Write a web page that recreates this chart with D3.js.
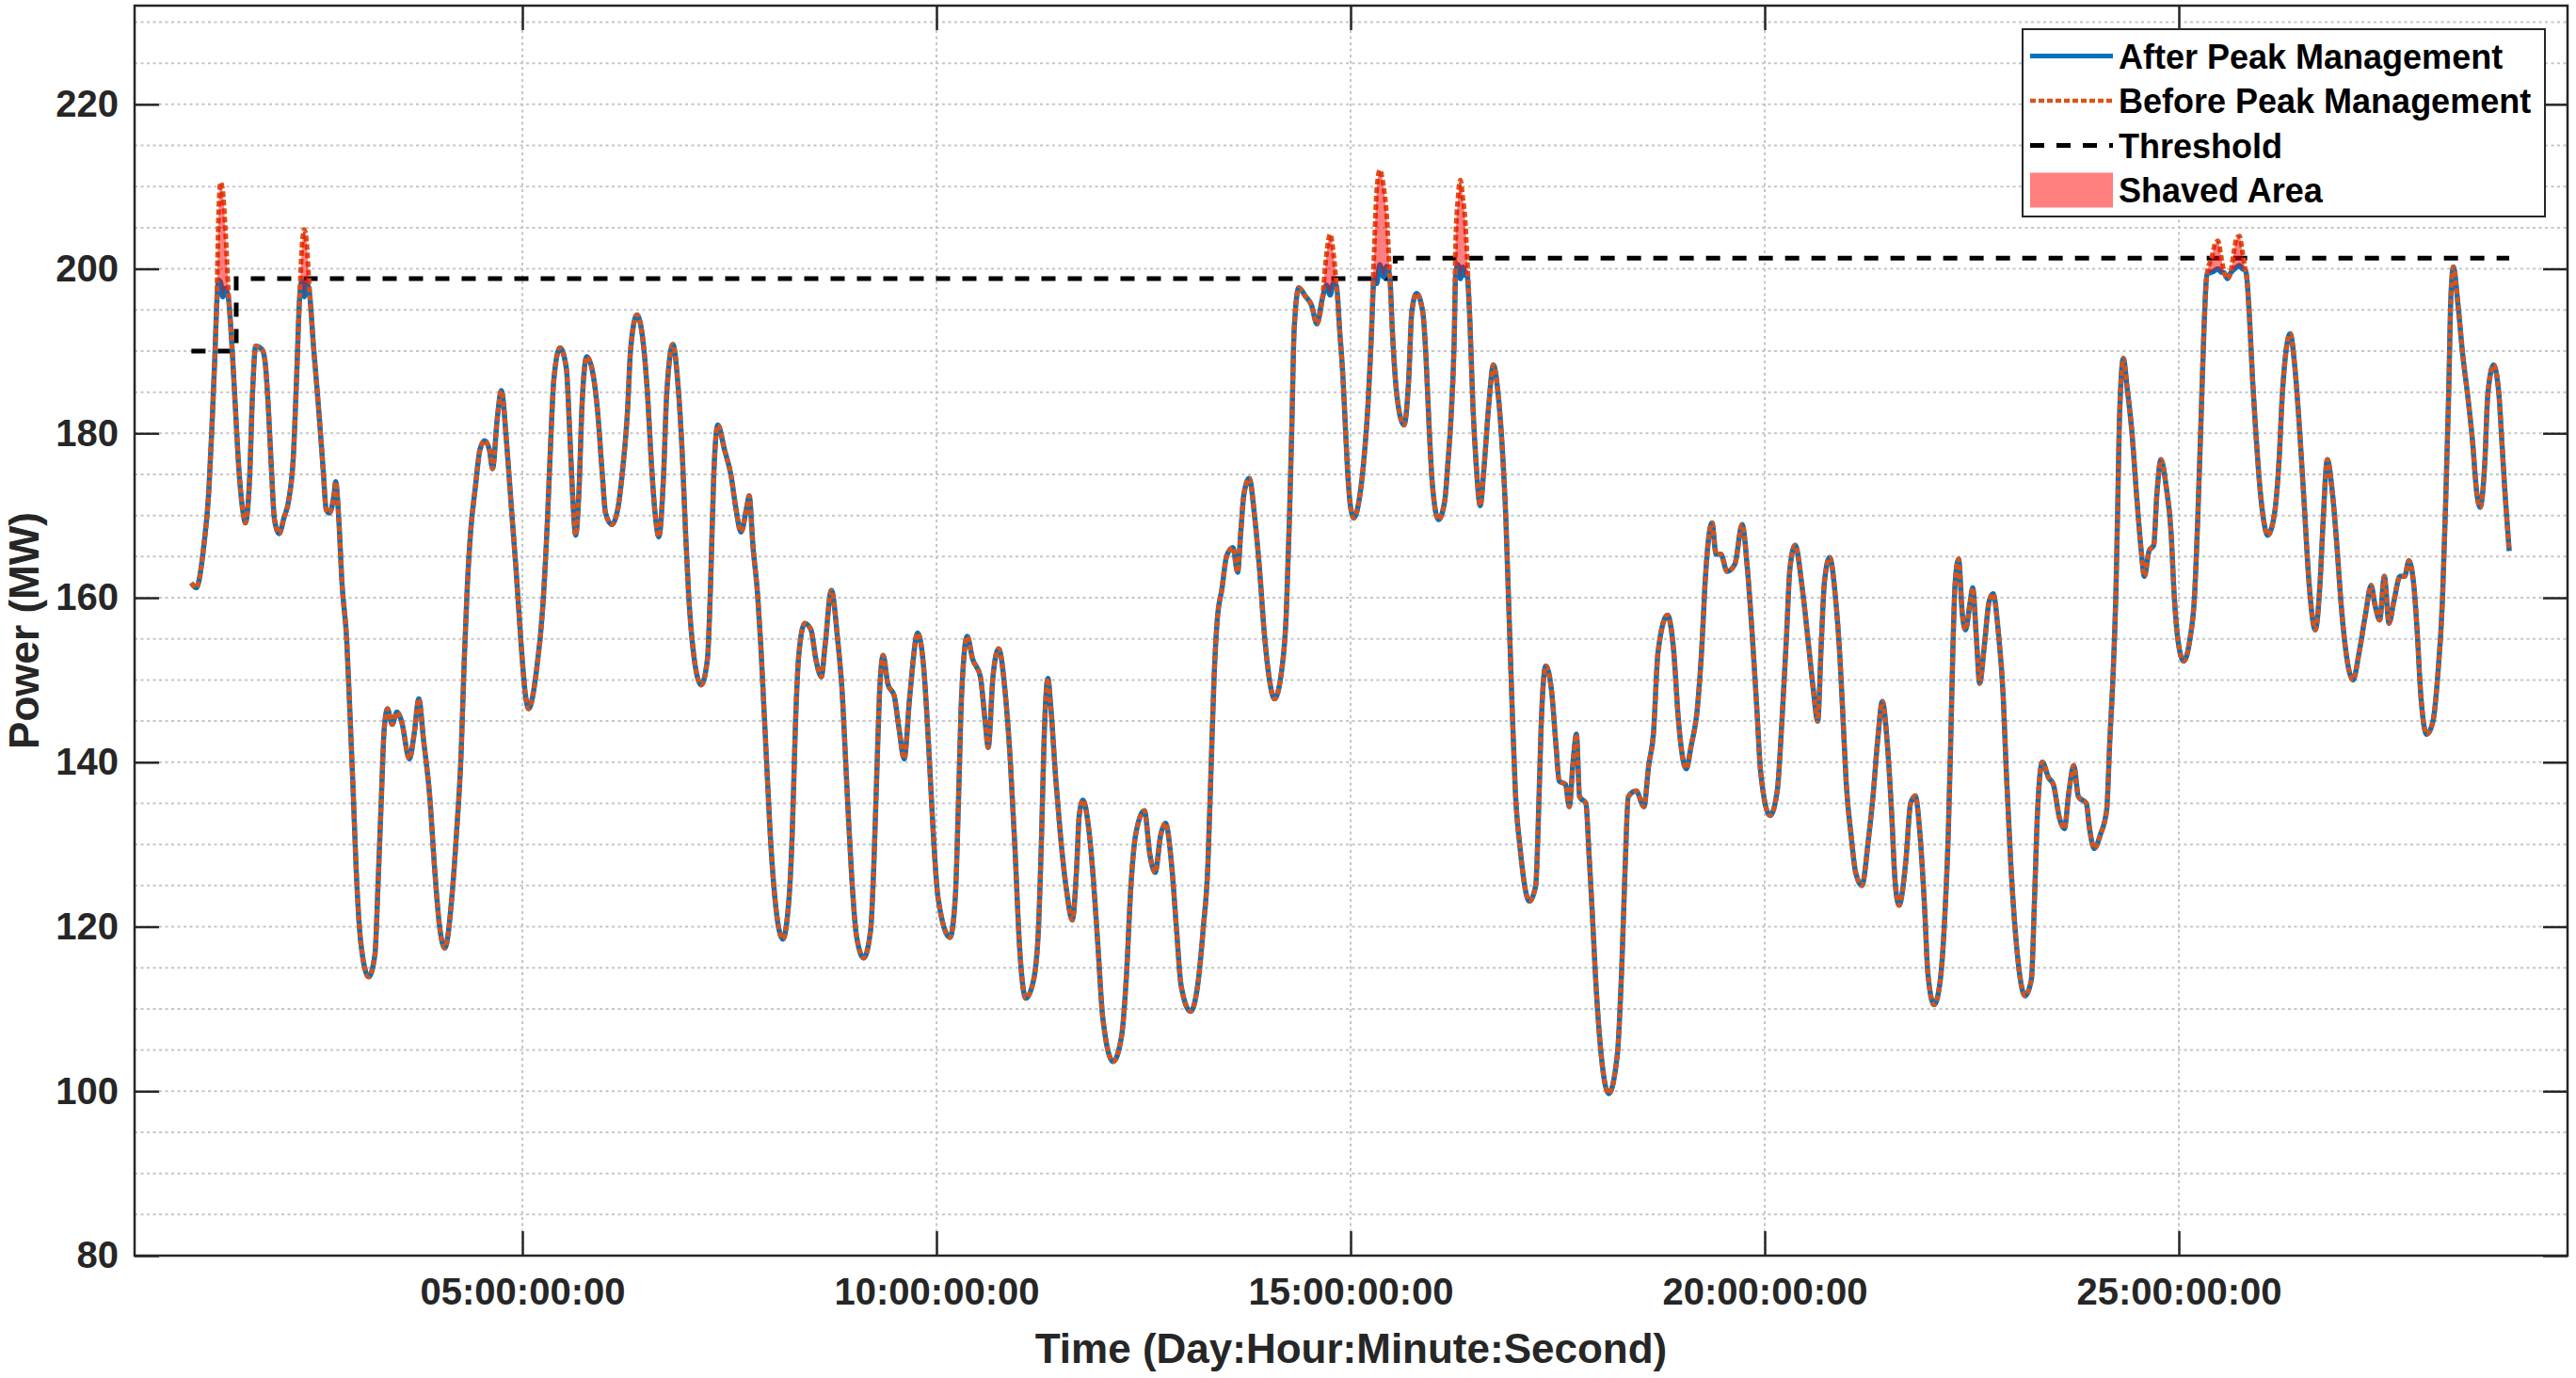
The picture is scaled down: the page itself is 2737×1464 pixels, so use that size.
<!DOCTYPE html>
<html>
<head>
<meta charset="utf-8">
<script src="https://cdn.jsdelivr.net/npm/d3@7"></script>
<style>
  html, body { margin: 0; padding: 0; background: #ffffff; }
  svg { display: block; }
</style>
</head>
<body>
<svg id="chart" width="2737" height="1464"></svg>
<script>
// ---------------- DATA ----------------
// time in days since start (axis shows Day:Hour:Minute:Second)
const timeDays = [
  1.004,1.061,1.155,1.212,1.250,1.288,1.307,1.333,1.356,1.382,1.413,1.450,1.496,1.534,1.572,1.629,1.655,1.705,1.742,1.780,1.856,1.894,1.932,1.970,2.007,2.064,2.121,2.178,2.235,2.273,2.310,2.337,2.367,2.397,2.424,2.481,2.538,2.594,2.632,2.670,2.727,2.746,2.784,2.822,2.879,2.916,2.954,2.992,3.049,3.144,3.220,3.257,3.295,3.333,3.371,3.428,3.485,3.541,3.636,3.693,3.750,3.807,3.882,3.939,3.996,4.064,4.148,4.204,4.261,4.299,4.337,4.375,4.432,4.488,4.545,4.602,4.640,4.697,4.746,4.811,4.867,4.924,4.981,5.038,5.075,5.170,5.246,5.303,5.341,5.379,5.454,
  5.531,5.568,5.606,5.644,5.682,5.720,5.777,5.853,5.909,5.966,6.004,6.080,6.156,6.212,6.269,6.307,6.383,6.459,6.515,6.553,6.602,6.648,6.705,6.743,6.818,6.875,6.932,6.970,7.008,7.065,7.159,7.235,7.273,7.311,7.360,7.443,7.519,7.576,7.640,7.709,7.739,7.784,7.841,7.879,7.917,7.955,7.993,8.049,8.144,8.220,8.258,8.296,8.334,8.409,8.485,8.542,8.610,8.655,8.731,8.807,8.864,8.902,8.940,8.978,9.034,9.121,9.205,9.243,9.280,9.311,9.356,9.413,9.489,9.546,9.610,9.678,9.773,9.849,9.906,9.962,10.019,
  10.163,10.227,10.265,10.303,10.371,10.435,10.530,10.587,10.625,10.682,10.750,10.833,10.890,10.947,11.004,11.079,11.174,11.231,11.269,11.299,11.345,11.382,11.439,11.496,11.572,11.640,11.693,11.723,11.769,11.837,11.894,11.951,12.007,12.132,12.235,12.291,12.348,12.405,12.511,12.576,12.640,12.708,12.765,12.841,12.898,12.954,13.068,13.163,13.220,13.276,13.314,13.352,13.390,13.447,13.504,13.579,13.636,13.674,13.712,13.776,13.845,13.901,13.958,14.015,14.080,14.167,14.223,14.261,14.291,14.318,14.375,14.451,14.527,14.594,
  14.659,14.709,14.754,14.792,14.830,14.868,14.906,14.936,14.962,15.000,15.038,15.114,15.171,15.209,15.247,15.284,15.315,15.352,15.398,15.436,15.474,15.504,15.542,15.587,15.644,15.701,15.739,15.796,15.871,15.909,15.947,15.985,16.061,16.137,16.175,16.212,16.250,16.269,16.296,16.326,16.356,16.383,16.402,16.439,16.477,16.515,16.565,16.610,16.667,16.724,16.781,16.837,16.875,16.913,16.951,16.989,17.046,17.159,17.235,17.273,17.300,17.356,17.425,17.481,17.519,17.595,17.640,17.689,17.727,17.765,17.841,17.879,17.917,17.955,18.012,18.117,18.220,18.277,18.315,18.353,18.447,18.542,18.599,18.656,18.712,18.826,18.902,18.959,19.053,
  19.110,19.186,19.242,19.280,19.364,19.413,19.470,19.545,19.640,19.727,19.792,19.848,19.905,19.951,20.064,20.151,20.208,20.265,20.303,20.367,20.454,20.530,20.587,20.640,20.682,20.720,20.784,20.852,20.909,20.947,20.985,21.042,21.098,21.174,21.250,21.307,21.364,21.420,21.477,21.534,21.572,21.621,21.705,21.761,21.818,21.875,21.932,21.970,22.045,22.121,22.178,22.216,22.246,22.273,22.299,22.341,22.386,22.424,22.481,22.511,22.557,22.595,22.652,22.708,22.757,22.822,22.879,22.917,22.973,23.030,23.144,23.220,23.258,23.295,23.352,23.428,23.485,23.561,23.617,23.674,23.731,23.788,
  23.883,23.921,23.978,24.053,24.129,24.167,24.205,24.243,24.262,24.281,24.330,24.375,24.432,24.489,24.546,24.584,24.641,24.697,24.735,24.784,24.849,24.906,24.944,24.989,25.057,25.133,25.190,25.228,25.266,25.303,25.341,25.400,25.436,25.474,25.511,25.549,25.587,25.625,25.663,25.701,25.731,25.769,25.796,25.815,25.853,25.891,25.928,25.966,26.023,26.072,26.156,26.213,26.250,26.345,26.402,26.459,26.516,26.572,26.648,26.705,26.743,26.792,26.856,26.913,26.951,27.008,27.103,27.178,27.254,27.322,27.367,27.425,27.481,27.538,27.595,27.671,27.727,27.777,27.841,27.879,27.917,27.993,28.069,28.125,28.182,28.220,28.258,28.284,28.315,28.371,28.428,28.485,28.542,28.599,28.637,28.694,28.731,28.800,28.864,28.902,28.939,28.989
];

// Power before peak management (MW)
const powerBefore = [
  161.8,161.2,166.4,172.6,180.3,189.5,195.0,207.0,210.5,209.5,205.0,197.5,190.2,183.3,176.4,170.3,169.1,174.1,184.8,190.6,190.2,188.7,183.3,175.7,169.5,167.8,169.7,171.8,177.2,186.4,196.4,202.5,204.8,203.0,198.5,190.2,183.3,175.7,170.7,170.3,172.6,174.1,169.5,161.8,154.9,146.5,137.3,127.3,118.1,113.9,116.6,125.0,135.0,144.2,146.5,144.6,146.1,145.0,140.4,143.4,147.7,142.7,135.8,127.3,120.4,117.4,123.5,131.2,141.2,152.6,161.8,168.0,173.4,178.0,179.1,178.0,175.7,181.8,185.2,178.7,171.0,163.4,154.9,148.1,146.5,151.1,158.8,169.5,178.7,186.4,190.4,
  187.9,181.0,172.6,167.6,172.6,183.3,189.3,187.2,182.6,174.9,170.3,168.9,171.0,175.7,182.6,190.2,194.4,191.0,184.1,177.2,170.3,167.4,174.9,184.8,190.8,186.4,177.2,168.0,160.3,153.4,149.4,152.6,161.8,174.9,181.0,177.9,174.9,171.0,168.0,171.0,172.4,166.3,160.3,154.2,146.5,138.8,131.2,123.5,118.5,123.5,131.2,144.2,152.6,156.9,156.1,152.6,150.4,154.2,160.9,154.9,148.1,140.4,132.7,125.8,118.9,116.2,119.6,127.3,138.8,148.1,153.0,149.5,148.1,144.2,140.4,148.1,155.7,151.1,141.9,131.2,123.5,
  118.7,123.5,135.0,148.1,155.3,152.6,150.4,145.0,141.8,150.4,153.8,148.1,140.4,129.6,117.4,111.3,113.6,119.7,131.2,142.7,150.2,146.5,138.1,131.2,124.3,120.8,127.3,133.5,135.4,132.0,125.8,117.4,109.0,103.6,106.7,113.6,125.0,131.2,134.1,128.8,126.6,131.2,132.6,127.3,119.7,112.8,109.7,113.6,119.7,127.3,138.8,150.4,157.3,161.1,165.1,166.1,163.1,168.0,172.6,174.5,169.5,163.4,155.7,150.4,147.7,151.1,158.0,169.5,181.0,192.5,197.7,196.7,195.6,193.3,
  196.4,201.8,204.2,202.0,197.9,192.5,187.1,181.0,175.7,171.0,169.7,172.6,178.0,183.3,191.0,202.0,209.5,212.0,210.0,206.5,199.0,192.5,186.4,182.6,181.0,186.4,194.8,197.0,194.8,189.5,181.0,174.1,169.5,171.8,176.4,181.8,191.0,203.5,208.5,210.8,208.5,206.0,202.5,194.0,183.3,176.4,171.2,175.7,183.3,188.3,184.8,177.2,169.5,158.0,146.5,136.5,129.6,123.1,125.0,135.0,144.2,151.7,148.8,141.9,137.7,137.3,134.6,140.4,143.4,135.8,135.0,128.8,121.9,114.3,105.9,99.7,104.4,115.9,127.3,135.8,136.5,134.6,139.6,143.4,153.4,157.9,153.4,145.0,139.2,
  141.9,146.5,154.2,161.8,169.1,165.3,165.3,163.2,164.1,168.9,163.4,155.7,146.5,138.8,133.5,136.5,145.0,155.7,163.4,166.4,161.1,154.2,148.8,145.0,154.2,161.8,164.9,160.3,152.6,145.0,137.3,131.2,126.6,125.0,130.4,135.8,142.7,147.4,142.7,133.5,125.8,122.6,128.1,135.0,135.9,131.2,122.0,114.3,110.5,113.6,122.0,131.2,142.7,154.2,161.8,164.7,158.0,156.1,159.5,161.2,154.9,149.6,154.2,159.5,160.5,155.7,148.1,138.8,127.3,118.9,111.6,113.6,123.5,134.2,140.0,138.1,137.3,133.1,131.9,136.5,139.6,135.8,
  135.0,132.0,129.5,131.2,134.2,142.7,150.4,161.8,171.0,181.0,189.1,185.6,180.3,172.6,165.7,162.6,165.7,166.4,172.6,176.8,173.4,168.0,160.3,154.9,152.3,154.9,160.3,169.5,181.0,192.5,199.4,201.5,203.0,203.4,201.5,199.5,198.8,199.5,202.0,203.8,204.0,202.0,200.3,199.4,194.1,186.4,180.3,174.9,169.5,167.6,170.3,177.2,184.8,192.1,187.9,180.3,171.0,161.8,156.1,161.8,169.5,176.8,172.6,165.7,160.3,154.2,150.0,153.4,158.0,161.5,159.2,157.3,162.6,156.9,159.5,162.6,162.6,164.5,161.1,155.7,148.8,143.4,145.0,150.4,159.5,171.0,184.8,196.4,200.2,195.6,189.5,184.8,179.5,172.6,171.0,176.4,184.8,188.3,184.8,178.7,172.6,165.7
];

// Power after peak management (MW): same as before except where peaks were shaved
const powerAfter = [
  161.8,161.2,166.4,172.6,180.3,189.5,195.0,198.6,198.4,196.6,197.6,196.5,190.2,183.3,176.4,170.3,169.1,174.1,184.8,190.6,190.2,188.7,183.3,175.7,169.5,167.8,169.7,171.8,177.2,186.4,196.4,198.5,196.6,198.2,197.5,190.2,183.3,175.7,170.7,170.3,172.6,174.1,169.5,161.8,154.9,146.5,137.3,127.3,118.1,113.9,116.6,125.0,135.0,144.2,146.5,144.6,146.1,145.0,140.4,143.4,147.7,142.7,135.8,127.3,120.4,117.4,123.5,131.2,141.2,152.6,161.8,168.0,173.4,178.0,179.1,178.0,175.7,181.8,185.2,178.7,171.0,163.4,154.9,148.1,146.5,151.1,158.8,169.5,178.7,186.4,190.4,
  187.9,181.0,172.6,167.6,172.6,183.3,189.3,187.2,182.6,174.9,170.3,168.9,171.0,175.7,182.6,190.2,194.4,191.0,184.1,177.2,170.3,167.4,174.9,184.8,190.8,186.4,177.2,168.0,160.3,153.4,149.4,152.6,161.8,174.9,181.0,177.9,174.9,171.0,168.0,171.0,172.4,166.3,160.3,154.2,146.5,138.8,131.2,123.5,118.5,123.5,131.2,144.2,152.6,156.9,156.1,152.6,150.4,154.2,160.9,154.9,148.1,140.4,132.7,125.8,118.9,116.2,119.6,127.3,138.8,148.1,153.0,149.5,148.1,144.2,140.4,148.1,155.7,151.1,141.9,131.2,123.5,
  118.7,123.5,135.0,148.1,155.3,152.6,150.4,145.0,141.8,150.4,153.8,148.1,140.4,129.6,117.4,111.3,113.6,119.7,131.2,142.7,150.2,146.5,138.1,131.2,124.3,120.8,127.3,133.5,135.4,132.0,125.8,117.4,109.0,103.6,106.7,113.6,125.0,131.2,134.1,128.8,126.6,131.2,132.6,127.3,119.7,112.8,109.7,113.6,119.7,127.3,138.8,150.4,157.3,161.1,165.1,166.1,163.1,168.0,172.6,174.5,169.5,163.4,155.7,150.4,147.7,151.1,158.0,169.5,181.0,192.5,197.7,196.7,195.6,193.3,
  196.4,198.0,196.8,198.2,197.9,192.5,187.1,181.0,175.7,171.0,169.7,172.6,178.0,183.3,191.0,198.8,198.2,200.5,199.0,200.3,199.0,192.5,186.4,182.6,181.0,186.4,194.8,197.0,194.8,189.5,181.0,174.1,169.5,171.8,176.4,181.8,191.0,199.5,200.5,198.8,200.2,199.2,199.5,194.0,183.3,176.4,171.2,175.7,183.3,188.3,184.8,177.2,169.5,158.0,146.5,136.5,129.6,123.1,125.0,135.0,144.2,151.7,148.8,141.9,137.7,137.3,134.6,140.4,143.4,135.8,135.0,128.8,121.9,114.3,105.9,99.7,104.4,115.9,127.3,135.8,136.5,134.6,139.6,143.4,153.4,157.9,153.4,145.0,139.2,
  141.9,146.5,154.2,161.8,169.1,165.3,165.3,163.2,164.1,168.9,163.4,155.7,146.5,138.8,133.5,136.5,145.0,155.7,163.4,166.4,161.1,154.2,148.8,145.0,154.2,161.8,164.9,160.3,152.6,145.0,137.3,131.2,126.6,125.0,130.4,135.8,142.7,147.4,142.7,133.5,125.8,122.6,128.1,135.0,135.9,131.2,122.0,114.3,110.5,113.6,122.0,131.2,142.7,154.2,161.8,164.7,158.0,156.1,159.5,161.2,154.9,149.6,154.2,159.5,160.5,155.7,148.1,138.8,127.3,118.9,111.6,113.6,123.5,134.2,140.0,138.1,137.3,133.1,131.9,136.5,139.6,135.8,
  135.0,132.0,129.5,131.2,134.2,142.7,150.4,161.8,171.0,181.0,189.1,185.6,180.3,172.6,165.7,162.6,165.7,166.4,172.6,176.8,173.4,168.0,160.3,154.9,152.3,154.9,160.3,169.5,181.0,192.5,199.4,199.6,199.8,200.0,199.6,199.5,198.8,199.5,199.9,200.2,200.4,200.0,199.9,199.4,194.1,186.4,180.3,174.9,169.5,167.6,170.3,177.2,184.8,192.1,187.9,180.3,171.0,161.8,156.1,161.8,169.5,176.8,172.6,165.7,160.3,154.2,150.0,153.4,158.0,161.5,159.2,157.3,162.6,156.9,159.5,162.6,162.6,164.5,161.1,155.7,148.8,143.4,145.0,150.4,159.5,171.0,184.8,196.4,200.2,195.6,189.5,184.8,179.5,172.6,171.0,176.4,184.8,188.3,184.8,178.7,172.6,165.7
];

// Threshold (stepwise)
const thresholdDays = [1.004, 1.545, 15.538, 28.989];
const thresholdMW   = [190.0, 198.8, 201.3, 201.3];

// Axis ticks
const xTickDays   = [5, 10, 15, 20, 25];
const xTickLabels = ["05:00:00:00", "10:00:00:00", "15:00:00:00", "20:00:00:00", "25:00:00:00"];
const yTickValues = [80, 100, 120, 140, 160, 180, 200, 220];
const yGridValues = [85, 90, 95, 100, 105, 110, 115, 120, 125, 130, 135, 140, 145, 150, 155, 160, 165, 170, 175, 180, 185, 190, 195, 200, 205, 210, 215, 220, 225, 230];

const legendLabels = ["After Peak Management", "Before Peak Management", "Threshold", "Shaved Area"];
const xAxisTitle = "Time (Day:Hour:Minute:Second)";
const yAxisTitle = "Power (MW)";

// ---------------- DRAWING ----------------
const FONT = "'Liberation Sans', Arial, Helvetica, sans-serif";
const AX = "#262626";
const M = { left: 143, right: 2728, top: 6, bottom: 1334 };
const svg = d3.select("#chart");

const x = d3.scaleLinear().domain([0.318, 29.693]).range([M.left, M.right]);
const y = d3.scaleLinear().domain([80, 232]).range([M.bottom, M.top]);

const rows = timeDays.map((t, i) => ({ t, before: powerBefore[i], after: powerAfter[i] }));
const thr = thresholdDays.map((t, i) => ({ t, v: thresholdMW[i] }));

svg.append("rect").attr("x", 0).attr("y", 0).attr("width", 2737).attr("height", 1464).attr("fill", "#fff");

// grid
const grid = svg.append("g");
grid.selectAll("line.h").data(yGridValues).join("line")
  .attr("x1", M.left).attr("x2", M.right)
  .attr("y1", d => y(d)).attr("y2", d => y(d))
  .attr("stroke", "#c6c6c6").attr("stroke-width", 2).attr("stroke-dasharray", "3,3.5");
grid.selectAll("line.v").data(xTickDays).join("line")
  .attr("x1", d => x(d)).attr("x2", d => x(d))
  .attr("y1", M.top).attr("y2", M.bottom)
  .attr("stroke", "#c6c6c6").attr("stroke-width", 2).attr("stroke-dasharray", "3,3.5");

const plot = svg.append("g");

// threshold
plot.append("path").datum(thr)
  .attr("d", d3.line().x(d => x(d.t)).y(d => y(d.v)).curve(d3.curveStepAfter))
  .attr("fill", "none").attr("stroke", "#000").attr("stroke-width", 5)
  .attr("stroke-dasharray", "15,13");

const curve = d3.curveMonotoneX;
// after (blue solid)
plot.append("path").datum(rows)
  .attr("d", d3.line().x(d => x(d.t)).y(d => y(d.after)).curve(curve))
  .attr("fill", "none").attr("stroke", "#0072BD").attr("stroke-width", 5.5)
  .attr("stroke-linejoin", "round");
// before (orange dotted)
plot.append("path").datum(rows)
  .attr("d", d3.line().x(d => x(d.t)).y(d => y(d.before)).curve(curve))
  .attr("fill", "none").attr("stroke", "#D95319").attr("stroke-width", 5)
  .attr("stroke-dasharray", "6,3").attr("stroke-linejoin", "round");
// shaved area
plot.append("path").datum(rows)
  .attr("d", d3.area().x(d => x(d.t)).y0(d => y(d.after)).y1(d => y(d.before)).curve(curve))
  .attr("fill", "#ff0000").attr("fill-opacity", 0.5).attr("stroke", "none");

// axes
const tickLen = 26;
function styleAxis(g) {
  g.select(".domain").remove();
  g.attr("font-family", FONT).attr("font-size", 40).attr("font-weight", "bold");
  g.selectAll(".tick line").attr("stroke", AX).attr("stroke-width", 2.5);
  g.selectAll(".tick text").attr("fill", AX);
}
svg.append("g").attr("transform", `translate(0,${M.bottom})`)
  .call(d3.axisBottom(x).tickValues(xTickDays).tickFormat((d, i) => xTickLabels[i])
    .tickSizeInner(-tickLen).tickSizeOuter(0).tickPadding(24))
  .call(styleAxis);
svg.append("g").attr("transform", `translate(0,${M.top})`)
  .call(d3.axisTop(x).tickValues(xTickDays).tickFormat("").tickSizeInner(-tickLen).tickSizeOuter(0))
  .call(styleAxis);
svg.append("g").attr("transform", `translate(${M.left},0)`)
  .call(d3.axisLeft(y).tickValues(yTickValues).tickFormat(d3.format("d"))
    .tickSizeInner(-tickLen).tickSizeOuter(0).tickPadding(17))
  .call(styleAxis);
svg.append("g").attr("transform", `translate(${M.right},0)`)
  .call(d3.axisRight(y).tickValues(yTickValues).tickFormat("").tickSizeInner(-tickLen).tickSizeOuter(0))
  .call(styleAxis);

// box
svg.append("rect").attr("x", M.left).attr("y", M.top)
  .attr("width", M.right - M.left).attr("height", M.bottom - M.top)
  .attr("fill", "none").attr("stroke", AX).attr("stroke-width", 2.5);

// axis titles
svg.append("text").attr("x", (M.left + M.right) / 2).attr("y", 1448)
  .attr("text-anchor", "middle").attr("font-family", FONT).attr("font-size", 44)
  .attr("font-weight", "bold").attr("fill", AX).text(xAxisTitle);
svg.append("text").attr("transform", `translate(41,${(M.top + M.bottom) / 2}) rotate(-90)`)
  .attr("text-anchor", "middle").attr("font-family", FONT).attr("font-size", 44)
  .attr("font-weight", "bold").attr("fill", AX).text(yAxisTitle);

// legend
const lg = svg.append("g");
lg.append("rect").attr("x", 2149).attr("y", 31).attr("width", 555).attr("height", 199)
  .attr("fill", "#fff").attr("stroke", AX).attr("stroke-width", 2);
const rowY = i => 59.5 + i * 47.5;
const sx0 = 2157, sx1 = 2245;
lg.append("line").attr("x1", sx0).attr("x2", sx1).attr("y1", rowY(0)).attr("y2", rowY(0))
  .attr("stroke", "#0072BD").attr("stroke-width", 5);
lg.append("line").attr("x1", sx0).attr("x2", sx1).attr("y1", rowY(1)).attr("y2", rowY(1))
  .attr("stroke", "#D95319").attr("stroke-width", 4.5).attr("stroke-dasharray", "6,3");
lg.append("line").attr("x1", sx0).attr("x2", sx1).attr("y1", rowY(2)).attr("y2", rowY(2))
  .attr("stroke", "#000").attr("stroke-width", 5).attr("stroke-dasharray", "15,13");
lg.append("rect").attr("x", sx0).attr("y", rowY(3) - 18.5).attr("width", sx1 - sx0).attr("height", 37)
  .attr("fill", "#ff0000").attr("fill-opacity", 0.5);
lg.selectAll("text").data(legendLabels).join("text")
  .attr("x", 2251).attr("y", (d, i) => rowY(i) + 13)
  .attr("font-family", FONT).attr("font-size", 36).attr("font-weight", "bold")
  .attr("fill", "#000").text(d => d);
</script>
</body>
</html>
